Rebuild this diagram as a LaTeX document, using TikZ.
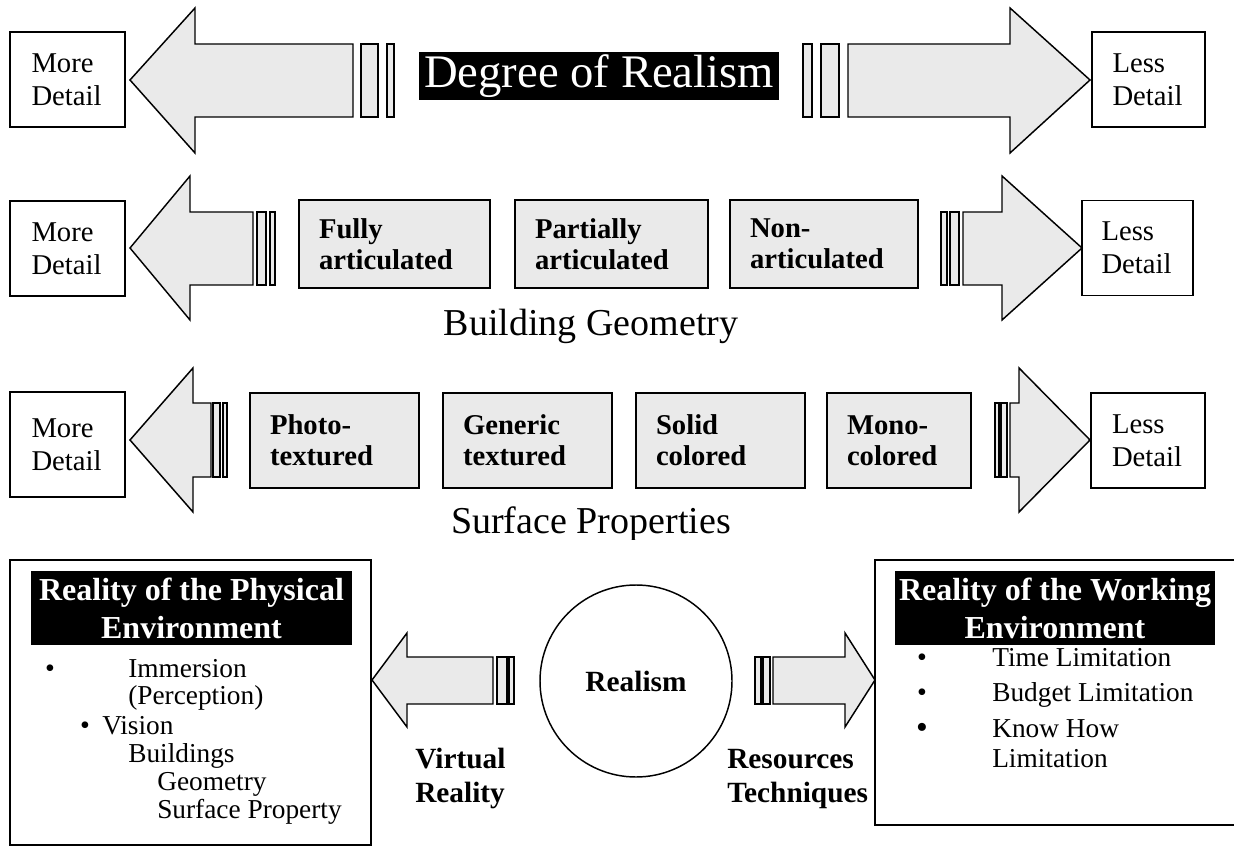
\documentclass[tikz,border=0pt]{standalone}
\usepackage{fontspec}
\setmainfont{Liberation Serif}
\usepackage{tikz}

\begin{document}
\begin{tikzpicture}[x=0.75pt,y=0.75pt,yscale=-1,xscale=1,
  arrowshape/.style={draw, line width=1.1pt, fill={rgb,255:red,234;green,234;blue,234}, line join=miter},
  detailbox/.style={draw, line width=1.1pt, minimum width=#1, minimum height=71.25pt, text width=54pt, align=left, inner sep=0pt, font=\fontsize{21.5}{24.75}\selectfont},
  levelbox/.style={draw, line width=1.1pt, fill={rgb,255:red,234;green,234;blue,234}, inner xsep=15pt, inner ysep=0pt, text width=#1, align=left, font=\bfseries\fontsize{21.5}{23.5}\selectfont},
  titlebox/.style={fill=black, text=white, inner sep=0pt, align=center},
  rowlabel/.style={anchor=base, inner sep=0pt, font=\fontsize{28.5}{34}\selectfont},
  itemtext/.style={anchor=base west, inner sep=0pt, font=\fontsize{20.5}{24}\selectfont},
  itemdot/.style={anchor=base, inner sep=0pt, font=\fontsize{21}{24}\selectfont},
  sidelabel/.style={anchor=base west, inner sep=0pt, font=\bfseries\fontsize{22}{25}\selectfont}
  ]
  \useasboundingbox (0,0) rectangle (1234,848);

  %Row 1: degree of realism
  \draw[arrowshape] (130,80) -- (195,8) -- (195,44) -- (353,44) -- (353,117) -- (195,117) -- (195,153) -- cycle ;
  \draw[arrowshape] (361,44) rectangle (378,117) ;
  \draw[arrowshape] (387,44) rectangle (394,117) ;
  \draw[arrowshape] (1090,80) -- (1010,8) -- (1010,44) -- (848,44) -- (848,117) -- (1010,117) -- (1010,153) -- cycle ;
  \draw[arrowshape] (803,44) rectangle (812,117) ;
  \draw[arrowshape] (821,44) rectangle (839,117) ;

  % Text Node
  \node[detailbox=86.25pt] (more1) at (67.5,79.5) {More\\Detail};
  % Text Node
  \node[detailbox=84.75pt] (less1) at (1148.5,79.5) {Less\\Detail};
  % Text Node
  \node[titlebox, minimum width=270pt, minimum height=36pt, font=\fontsize{35}{40}\selectfont] (degree) at (599,76) {Degree of Realism};

  %Row 2: building geometry
  \draw[arrowshape] (130,248) -- (190,176) -- (190,212) -- (253,212) -- (253,285) -- (190,285) -- (190,320) -- cycle ;
  \draw[arrowshape] (257,212) rectangle (266,285) ;
  \draw[arrowshape] (270,212) rectangle (275,285) ;
  \draw[arrowshape] (1082,248) -- (1002,176) -- (1002,212) -- (963,212) -- (963,285) -- (1002,285) -- (1002,320) -- cycle ;
  \draw[arrowshape] (941,212) rectangle (947,285) ;
  \draw[arrowshape] (950,212) rectangle (959,285) ;

  % Text Node
  \node[detailbox=86.25pt] (more2) at (67.5,248.5) {More\\Detail};
  % Text Node
  \node[detailbox=83.25pt] (less2) at (1137.5,248) {Less\\Detail};
  % Text Node
  \node[levelbox=113.25pt, minimum height=66pt] (fully) at (394.5,244) {Fully\\articulated};
  % Text Node
  \node[levelbox=114.75pt, minimum height=66pt, line width=2pt] (partially) at (611.5,244) {Partially\\articulated};
  % Text Node
  \node[levelbox=111pt, minimum height=66pt] (nonart) at (824,244) {Non-\\articulated};
  % Text Node
  \node[rowlabel] (geometry) at (591,335) {Building Geometry};

  %Row 3: surface properties
  \draw[arrowshape] (130,440) -- (193,368) -- (193,403) -- (211,403) -- (211,477) -- (193,477) -- (193,512) -- cycle ;
  \draw[arrowshape] (213,403) rectangle (220,477) ;
  \draw[arrowshape] (223,403) rectangle (227,477) ;
  \draw[arrowshape] (1090,440) -- (1019,368) -- (1019,403) -- (1010,403) -- (1010,477) -- (1019,477) -- (1019,512) -- cycle ;
  \draw[arrowshape] (995,403) rectangle (999,477) ;
  \draw[arrowshape] (1001,403) rectangle (1007,477) ;

  % Text Node
  \node[detailbox=86.25pt, minimum height=78.75pt] (more3) at (67.5,444.5) {More\\Detail};
  % Text Node
  \node[detailbox=85.5pt] (less3) at (1148,440.5) {Less\\Detail};
  % Text Node
  \node[levelbox=96.75pt, minimum height=71.25pt] (photo) at (334.5,440.5) {Photo-\\textured};
  % Text Node
  \node[levelbox=96.75pt, minimum height=71.25pt] (generic) at (527.5,440.5) {Generic\\textured};
  % Text Node
  \node[levelbox=96.75pt, minimum height=71.25pt] (solid) at (720.5,440.5) {Solid\\colored};
  % Text Node
  \node[levelbox=78pt, minimum height=71.25pt] (mono) at (899,440.5) {Mono-\\colored};
  % Text Node
  \begin{scope}
    \clip (300,480) rectangle (900,539);
    \node[rowlabel] (surface) at (591,533) {Surface Properties};
  \end{scope}

  %Row 4: realism
  \draw[line width=1.1pt] (10,560) rectangle (371,845) ;
  \draw[line width=1.1pt] (875,560) rectangle (1240,825) ;
  \draw[arrowshape] (372,680) -- (407,633) -- (407,657) -- (493,657) -- (493,704) -- (407,704) -- (407,727) -- cycle ;
  \draw[arrowshape] (497,657) rectangle (507,704) ;
  \draw[arrowshape] (509,657) rectangle (514,704) ;
  \draw[arrowshape] (875,680) -- (845,633) -- (845,657) -- (773,657) -- (773,704) -- (845,704) -- (845,727) -- cycle ;
  \draw[arrowshape] (755,657) rectangle (761,704) ;
  \draw[arrowshape] (763,657) rectangle (770,704) ;

  % Text Node
  \node[draw, circle, line width=1.1pt, minimum size=144pt, font=\bfseries\fontsize{22}{25}\selectfont] (realism) at (636,681) {Realism};
  % Text Node
  \node[titlebox, minimum width=240.75pt, minimum height=55.5pt, font=\bfseries\fontsize{24}{28.5}\selectfont] (physical) at (191.5,608) {Reality of the Physical\\Environment};
  % Text Node
  \node[titlebox, minimum width=240pt, minimum height=55.5pt, font=\bfseries\fontsize{24}{28.5}\selectfont] (working) at (1055,608) {Reality of the Working\\Environment};

  % Text Node
  \node[itemdot] (dota) at (50,677) {•};
  \node[itemtext] (immersion) at (128,677) {Immersion};
  \node[itemtext] (perception) at (128,704) {(Perception)};
  \node[itemdot] (dotb) at (85,734) {•};
  \node[itemtext] (vision) at (102,734) {Vision};
  \node[itemtext] (buildings) at (128,762) {Buildings};
  \node[itemtext] (geom) at (157,790) {Geometry};
  \node[itemtext] (surfprop) at (157,818) {Surface Property};

  % Text Node
  \node[itemdot] (dotc) at (922,666) {•};
  \node[itemtext] (time) at (992,666) {Time Limitation};
  \node[itemdot] (dotd) at (922,701) {•};
  \node[itemtext] (budget) at (992,701) {Budget Limitation};
  \node[itemdot, scale=1.2] (dote) at (922,738) {•};
  \node[itemtext] (knowhow) at (992,737) {Know How};
  \node[itemtext] (limit) at (992,767) {Limitation};

  % Text Node
  \node[sidelabel] (virtual) at (415,768) {Virtual};
  \node[sidelabel] (reality) at (415,802) {Reality};
  % Text Node
  \node[sidelabel] (resources) at (727,768) {Resources};
  \node[sidelabel] (techniques) at (727,802) {Techniques};

\end{tikzpicture}
\end{document}
